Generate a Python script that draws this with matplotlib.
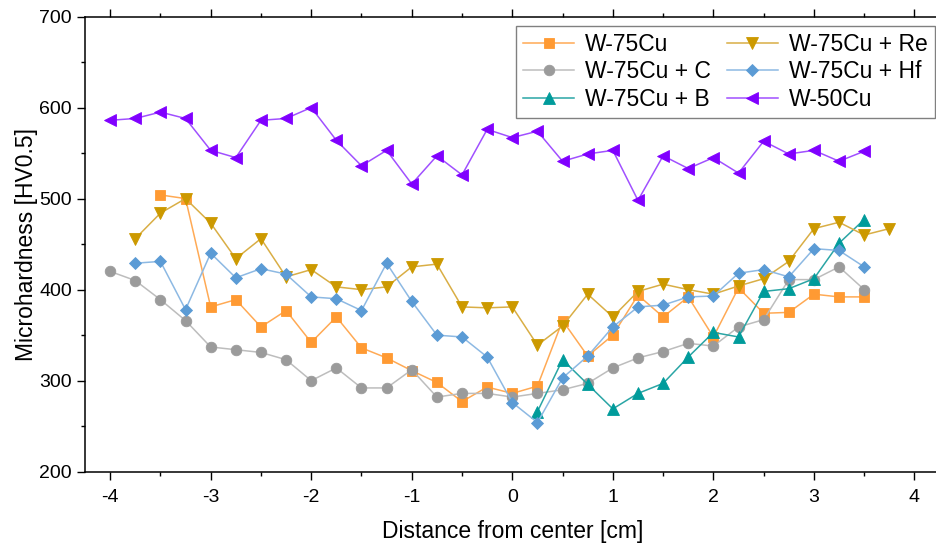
import numpy as np
import matplotlib
matplotlib.use("Agg")
import matplotlib.pyplot as plt
from matplotlib.ticker import MultipleLocator

plt.rcParams["font.family"] = ["Liberation Sans", "DejaVu Sans"]
plt.rcParams["axes.unicode_minus"] = False

# Measurement positions (cm from center) and microhardness values (HV0.5)
x_cu = np.arange(-3.5, 3.5 + 0.001, 0.25)
hv_cu = [504, 500, 381, 389, 359, 377, 342, 370, 336, 325, 311,
         298, 277, 293, 286, 294, 366, 327, 350, 394, 370, 392,
         348, 402, 374, 375, 395, 392, 392]

x_c = np.arange(-4.0, 3.5 + 0.001, 0.25)
hv_c = [420, 410, 389, 366, 337, 334, 331, 323, 300, 314, 292, 292,
        312, 282, 286, 286, 282, 286, 290, 297, 314, 325, 332, 341,
        338, 359, 367, 411, 411, 425, 400]

x_b = np.arange(0.25, 3.5 + 0.001, 0.25)
hv_b = [266, 323, 296, 269, 286, 297, 326,
        353, 348, 398, 401, 412, 451, 477]

x_re = np.arange(-3.75, 3.75 + 0.001, 0.25)
hv_re = [456, 484, 500, 473, 434, 456, 414, 422, 403, 400, 403,
         425, 428, 381, 380, 381, 339, 360, 395, 370, 398, 406, 400,
         395, 404, 412, 431, 467, 474, 460, 467]

x_hf = np.arange(-3.75, 3.5 + 0.001, 0.25)
hv_hf = [429, 431, 378, 440, 413, 423, 417, 392, 390, 377, 429,
         387, 350, 348, 326, 276, 254, 303, 327, 359, 381, 383, 392,
         393, 418, 422, 414, 445, 443, 425]

x_50 = np.arange(-4.0, 3.5 + 0.001, 0.25)
hv_50 = [586, 588, 595, 588, 553, 545, 586, 588, 600, 564, 536, 553, 516,
         547, 526, 576, 567, 574, 541, 549, 553, 498, 547, 533,
         545, 528, 563, 549, 553, 541, 552]

labels = ["W-75Cu", "W-75Cu + C", "W-75Cu + B",
          "W-75Cu + Re", "W-75Cu + Hf", "W-50Cu"]

# (x, y, marker, marker colour, line colour, marker size)
series = [
    (x_cu, hv_cu, "s", "#FF9A33", "#FFAA55", 6.8),
    (x_c, hv_c, "o", "#9B9B9B", "#BDBDBD", 7.6),
    (x_b, hv_b, "^", "#009B9B", "#2AA5A5", 8.8),
    (x_re, hv_re, "v", "#CC9900", "#D9AE45", 8.8),
    (x_hf, hv_hf, "D", "#5B9BD5", "#8DB9E3", 6.2),
    (x_50, hv_50, "<", "#8000FF", "#A050FF", 8.8),
]

fig = plt.figure(figsize=(9.37, 5.44), dpi=100)
ax = fig.add_axes([85 / 937, 1 - 471.7 / 544, 854.6 / 937, 455.2 / 544])

for (xs, ys, mk, mc, lc, ms), lab in zip(series, labels):
    ax.plot(xs, ys, color=lc, lw=1.1, marker=mk, markersize=ms,
            markerfacecolor=mc, markeredgecolor=mc, markeredgewidth=0.6,
            label=lab)

ax.set_xlim(-4.25, 4.25)
ax.set_ylim(200, 700)

ax.xaxis.set_major_locator(MultipleLocator(1))
ax.xaxis.set_minor_locator(MultipleLocator(0.5))
ax.yaxis.set_major_locator(MultipleLocator(100))
ax.yaxis.set_minor_locator(MultipleLocator(50))

ax.tick_params(axis="both", which="major", direction="out", length=5.5,
               width=1.0, labelsize=14, top=True, right=False)
ax.tick_params(axis="both", which="minor", direction="out", length=2.8,
               width=1.0, top=True, right=False)
ax.tick_params(axis="x", which="major", pad=7)
ax.tick_params(axis="y", which="major", pad=4)
ax.tick_params(axis="x", which="both", labeltop=False)

for side in ("left", "bottom", "top"):
    ax.spines[side].set_linewidth(1.1)
ax.spines["right"].set_visible(False)

ax.set_xlabel("Distance from center [cm]", fontsize=16.5, labelpad=10)
ax.set_ylabel("Microhardness [HV0.5]", fontsize=16.5, labelpad=1)

leg = ax.legend(ncol=2, loc="upper right",
                bbox_to_anchor=(934.6 / 937, 1 - 26 / 544),
                bbox_transform=fig.transFigure,
                fontsize=16.5, frameon=True, fancybox=False,
                edgecolor="#808080", framealpha=1, borderpad=0.3,
                labelspacing=0.2, handlelength=2.2, handletextpad=0.5,
                columnspacing=0.7, borderaxespad=0)
leg.get_frame().set_linewidth(1.0)

fig.savefig("out.png", dpi=100)
